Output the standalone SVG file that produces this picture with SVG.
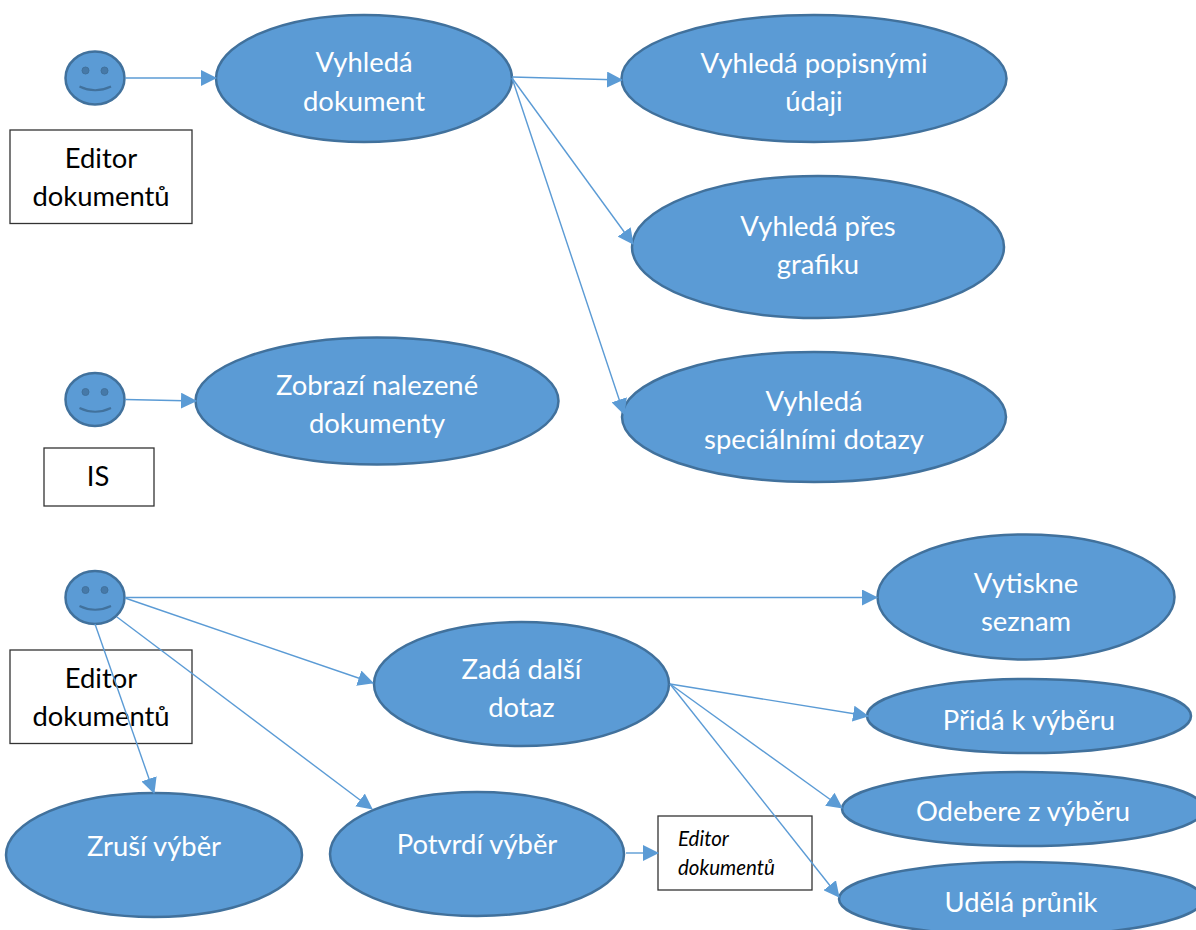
<svg xmlns="http://www.w3.org/2000/svg" width="1196" height="930" viewBox="0 0 1196 930">
<style>
.n{fill:#5b9bd5;stroke:#41719c;stroke-width:2.5}
.t{font-family:"Lato","Open Sans",sans-serif;font-size:27.400px;fill:#fff;text-anchor:middle}
.b{font-family:"Lato","Open Sans",sans-serif;font-size:27.400px;fill:#000;text-anchor:middle}
.i{font-family:"Lato","Open Sans",sans-serif;font-size:20.500px;font-style:italic;fill:#000}
.r{fill:#fff;stroke:#333;stroke-width:1.3}
.e{fill:#41719c;stroke:#41719c;stroke-width:1;fill-opacity:.8}
.s{fill:none;stroke:#41719c;stroke-width:2}
.c line{stroke:#5b9bd5;stroke-width:1.4;marker-end:url(#a)}
</style>
<defs>
<marker id="a" markerUnits="userSpaceOnUse" markerWidth="16" markerHeight="16" refX="15" refY="8" orient="auto"><path d="M0 0L16 8L0 16Z" fill="#5b9bd5"/></marker>
<g id="face"><ellipse class="n" cx="95" cy="0" rx="29.500" ry="26.500"/><circle class="e" cx="85.500" cy="-7.500" r="3.500"/><circle class="e" cx="104.500" cy="-7.500" r="3.500"/><path class="s" d="M79.500 8.500Q95 16 111 8.500"/></g>
</defs>
<g id="rect-1"><rect class="r" x="10" y="130" width="182" height="93.500"/><text class="b" x="101" y="168">Editor</text><text class="b" x="101" y="206">dokumentů</text></g>
<g id="rect-2"><rect class="r" x="44" y="448" width="110" height="58"/><text class="b" x="98" y="486">IS</text></g>
<g id="rect-3"><rect class="r" x="10" y="650" width="182" height="93.500"/><text class="b" x="101" y="688">Editor</text><text class="b" x="101" y="726">dokumentů</text></g>
<g id="rect-4"><rect class="r" x="658" y="816" width="154" height="74"/><text class="i" x="678" y="846">Editor</text><text class="i" x="678" y="875">dokumentů</text></g>
<g id="actor-1"><use href="#face" y="78"/></g>
<g id="actor-2"><use href="#face" y="399.500"/></g>
<g id="actor-3"><use href="#face" y="597.500"/></g>
<g id="uc-1"><ellipse class="n" cx="364" cy="78.500" rx="148" ry="63.500"/><text class="t" x="364" y="72">Vyhledá</text><text class="t" x="364" y="111">dokument</text></g>
<g id="uc-2"><ellipse class="n" cx="814" cy="78.500" rx="192.500" ry="63.500"/><text class="t" x="814" y="73">Vyhledá popisnými</text><text class="t" x="814" y="111">údaji</text></g>
<g id="uc-3"><ellipse class="n" cx="818" cy="247" rx="186" ry="71"/><text class="t" x="818" y="236">Vyhledá přes</text><text class="t" x="818" y="274">grafiku</text></g>
<g id="uc-4"><ellipse class="n" cx="814" cy="417" rx="192" ry="65"/><text class="t" x="814" y="411">Vyhledá</text><text class="t" x="814" y="449">speciálními dotazy</text></g>
<g id="uc-5"><ellipse class="n" cx="377" cy="401" rx="181.500" ry="63.500"/><text class="t" x="377" y="395">Zobrazí nalezené</text><text class="t" x="377" y="433">dokumenty</text></g>
<g id="uc-6"><ellipse class="n" cx="1026" cy="597" rx="148.500" ry="62.500"/><text class="t" x="1026" y="593">Vytiskne</text><text class="t" x="1026" y="631">seznam</text></g>
<g id="uc-7"><ellipse class="n" cx="521.500" cy="684" rx="147.500" ry="62"/><text class="t" x="521.500" y="679">Zadá další</text><text class="t" x="521.500" y="717">dotaz</text></g>
<g id="uc-8"><ellipse class="n" cx="1029" cy="716" rx="162" ry="37"/><text class="t" x="1029" y="730">Přidá k výběru</text></g>
<g id="uc-9"><ellipse class="n" cx="1023" cy="809" rx="181" ry="37"/><text class="t" x="1023" y="821">Odebere z výběru</text></g>
<g id="uc-10"><ellipse class="n" cx="1021" cy="899" rx="182" ry="37"/><text class="t" x="1021" y="912">Udělá průnik</text></g>
<g id="uc-11"><ellipse class="n" cx="154" cy="855" rx="148" ry="62"/><text class="t" x="154" y="856">Zruší výběr</text></g>
<g id="uc-12"><ellipse class="n" cx="477" cy="854" rx="147" ry="62"/><text class="t" x="477" y="854">Potvrdí výběr</text></g>
<g id="connectors" class="c">
<line x1="125" y1="78" x2="216" y2="78"/>
<line x1="512" y1="77" x2="622" y2="80"/>
<line x1="512" y1="78" x2="633" y2="244"/>
<line x1="512" y1="78" x2="624" y2="414"/>
<line x1="125" y1="399.500" x2="196" y2="401"/>
<line x1="125" y1="597.500" x2="877" y2="597.500"/>
<line x1="125" y1="598" x2="373" y2="683"/>
<line x1="95" y1="624" x2="154" y2="793"/>
<line x1="117" y1="617" x2="372" y2="809"/>
<line x1="670" y1="684" x2="868" y2="716"/>
<line x1="670" y1="684" x2="842" y2="808"/>
<line x1="670" y1="684" x2="839" y2="897"/>
<line x1="626" y1="853" x2="658" y2="853"/>
</g>
</svg>
